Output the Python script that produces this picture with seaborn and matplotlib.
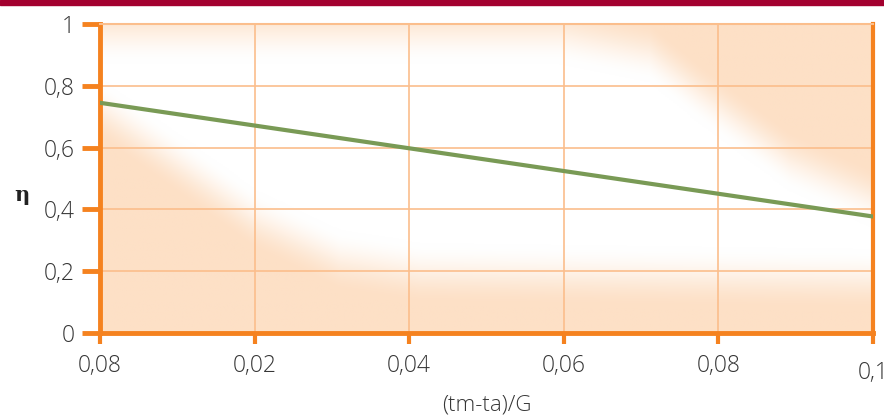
import numpy as np
import pandas as pd
import matplotlib
matplotlib.use('Agg')
import matplotlib.pyplot as plt
from matplotlib.patches import Rectangle
import seaborn as sns

# data
x_vals = [0.0, 0.1]
eta_vals = [0.745, 0.377]
x_ticks = [0.0, 0.02, 0.04, 0.06, 0.08, 0.1]
x_ticklabels = ["0,08", "0,02", "0,04", "0,06", "0,08", "0,1"]
y_ticks = [0, 0.2, 0.4, 0.6, 0.8, 1]
y_ticklabels = ["0", "0,2", "0,4", "0,6", "0,8", "1"]

df = pd.DataFrame({"x": x_vals, "eta": eta_vals})

sns.set_style("white")
plt.rcParams['font.family'] = ['Open Sans', 'DejaVu Sans']

ORANGE = "#F5821F"
GRID = "#FBBE8C"
PEACH = np.array([253, 224, 198]) / 255.0
GREEN = "#799A55"
TEXT = "#363636"

fig = plt.figure(figsize=(8.84, 4.15), dpi=100)
ax = fig.add_axes([100 / 884, 82 / 415, 773 / 884, 309 / 415])

# soft peach background with a white diagonal band
gx = np.linspace(0, 0.1, 400)
gy = np.linspace(0, 1, 300)
XX, YY = np.meshgrid(gx, gy)
top_edge = np.interp(XX, [0, 0.0595, 0.0712, 0.0776, 0.0893, 0.1],
                     [0.95, 0.95, 0.89, 0.76, 0.54, 0.42])
bot_edge = np.interp(XX, [0, 0.0129, 0.0201, 0.031, 0.0414, 0.1],
                     [0.74, 0.51, 0.38, 0.25, 0.21, 0.19])
d = np.maximum(YY - top_edge, bot_edge - YY)
a = np.clip((d + 0.08) / 0.2, 0, 1)
a = a * a * (3 - 2 * a)
img = np.ones(XX.shape + (3,)) * (1 - a[..., None]) + PEACH * a[..., None]
ax.imshow(img, extent=[0, 0.1, 0, 1], origin='lower', aspect='auto',
          interpolation='bilinear', zorder=0)

sns.lineplot(data=df, x="x", y="eta", color=GREEN, linewidth=3, ax=ax, zorder=3)

ax.set_xlim(0, 0.1)
ax.set_ylim(0, 1)
ax.set_xticks(x_ticks)
ax.set_xticklabels(x_ticklabels)
ax.set_yticks(y_ticks)
ax.set_yticklabels(y_ticklabels)
ax.set_axisbelow(True)
ax.grid(True, color=GRID, linewidth=1.2)

for side in ["left", "bottom", "right"]:
    ax.spines[side].set_color(ORANGE)
ax.spines["left"].set_linewidth(3.5)
ax.spines["bottom"].set_linewidth(3.5)
ax.spines["right"].set_linewidth(3)
ax.spines["top"].set_color(GRID)
ax.spines["top"].set_linewidth(1.5)

ax.tick_params(axis='y', left=True, length=13, width=3.5, color=ORANGE, pad=5,
               labelsize=16.5, labelcolor=TEXT, direction='out')
ax.tick_params(axis='x', bottom=True, length=8, width=3, color=ORANGE, pad=7,
               labelsize=16.5, labelcolor=TEXT, direction='out')
for lab in ax.get_xticklabels() + ax.get_yticklabels():
    lab.set_fontweight('light')
ax.get_xticklabels()[-1].set_y(-0.023)

ax.set_xlabel("(tm-ta)/G", fontsize=16, color=TEXT, labelpad=7, fontweight='light')
ax.set_ylabel("")
fig.text(22 / 884, 1 - 195 / 415, "η", fontsize=15, fontweight='bold',
         color="#222222", ha='center', va='center', family=['DejaVu Serif'])

fig.patches.append(Rectangle((0, 1 - 5 / 415), 1, 5 / 415, transform=fig.transFigure,
                             color="#A3002F", zorder=5))

fig.savefig("out.png", dpi=100)
